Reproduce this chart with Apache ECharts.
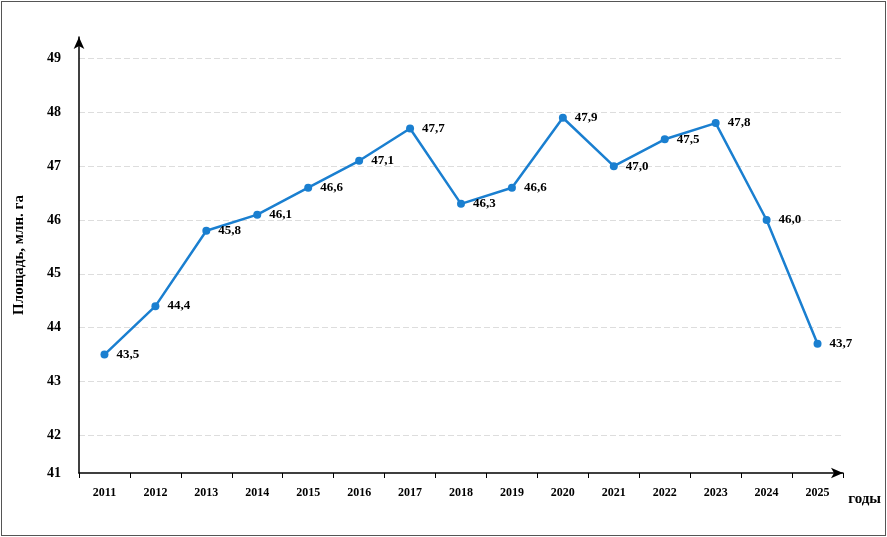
<!DOCTYPE html>
<html lang="ru">
<head>
<meta charset="UTF-8">
<title>Площадь</title>
<script src="https://cdn.jsdelivr.net/npm/echarts@6/dist/echarts.min.js"></script>
<style>
  html, body { margin: 0; padding: 0; background: #fff; }
  #chart { position: absolute; left: 1px; top: 1px; width: 883px; height: 533px; border: 1px solid #555; }
</style>
</head>
<body>
<div id="chart"></div>
<script>
var years = ['2011','2012','2013','2014','2015','2016','2017','2018','2019','2020','2021','2022','2023','2024','2025'];
var area = [43.5, 44.4, 45.8, 46.1, 46.6, 47.1, 47.7, 46.3, 46.6, 47.9, 47.0, 47.5, 47.8, 46.0, 43.7];
// axis starts at 41 but the 41-42 gap is drawn shorter, as in the original
var yTicks = [41.3, 42, 43, 44, 45, 46, 47, 48, 49];
var gridLines = [42, 43, 44, 45, 46, 47, 48, 49];

var chart = echarts.init(document.getElementById('chart'));
var font = '"Liberation Serif", "Times New Roman", serif';
chart.setOption({
    animation: false,
    grid: { left: 77, right: 42, top: 35, bottom: 62 },
    graphic: [{
        type: 'text', right: 4, bottom: 28,
        style: { text: 'годы', fontFamily: font, fontWeight: 'bold', fontSize: 15, fill: '#000' }
    }],
    xAxis: {
        type: 'category',
        data: years,
        axisLine: { symbol: ['none', 'arrow'], symbolSize: [8, 12], lineStyle: { color: '#000', width: 1.5 } },
        axisTick: { show: true, lineStyle: { color: '#000' } },
        axisLabel: { fontFamily: font, fontWeight: 'bold', fontSize: 12, color: '#000', margin: 14 }
    },
    yAxis: {
        type: 'value',
        min: 41.3,
        max: 49.4,
        name: 'Площадь, млн. га',
        nameLocation: 'middle',
        nameGap: 52,
        nameTextStyle: { fontFamily: font, fontWeight: 'bold', fontSize: 15, color: '#000' },
        axisLine: { show: true, symbol: ['none', 'arrow'], symbolSize: [8, 12], lineStyle: { color: '#000', width: 1.5 } },
        axisTick: { show: false },
        axisLabel: {
            customValues: yTicks,
            fontFamily: font, fontWeight: 'bold', fontSize: 14, color: '#000', margin: 18,
            formatter: function (v) { return v < 42 ? '41' : String(v); }
        },
        splitLine: { show: false }
    },
    series: [{
        type: 'line',
        data: area,
        symbol: 'circle',
        symbolSize: 8,
        lineStyle: { color: '#1a7fd0', width: 2.5 },
        itemStyle: { color: '#1a7fd0' },
        label: {
            show: true,
            position: 'right',
            distance: 8,
            fontFamily: font, fontWeight: 'bold', fontSize: 13, color: '#000',
            formatter: function (p) { return p.value.toFixed(1).replace('.', ','); }
        },
        markLine: {
            silent: true,
            symbol: 'none',
            label: { show: false },
            lineStyle: { color: '#ddd', type: [6, 3], width: 1 },
            data: gridLines.map(function (v) { return { yAxis: v }; }),
            z: 0
        }
    }]
});
</script>
</body>
</html>
